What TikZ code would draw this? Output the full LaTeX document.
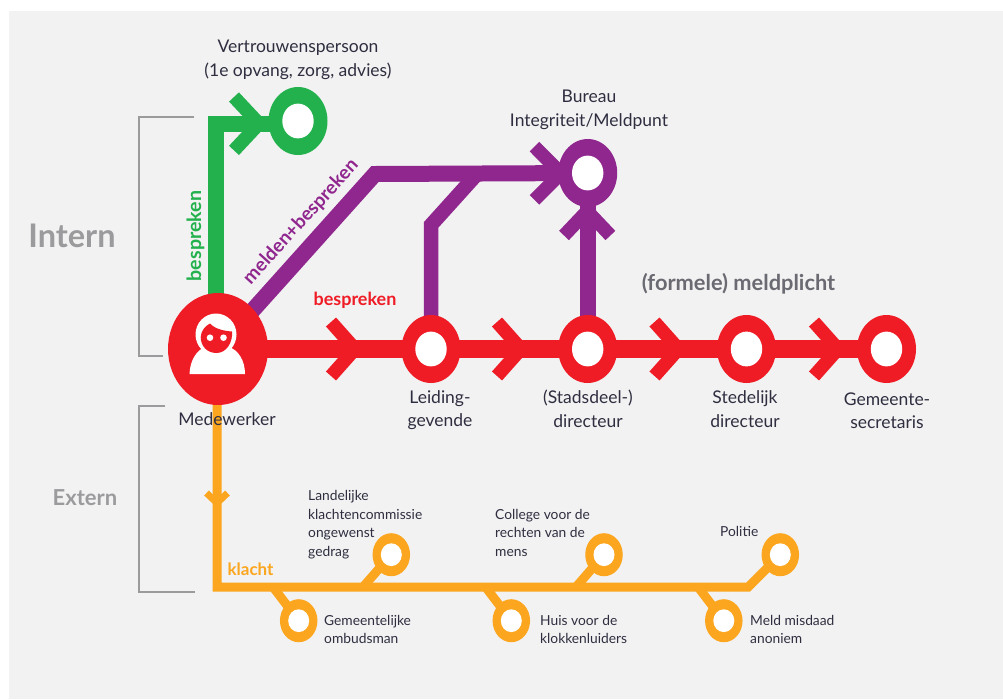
\documentclass[tikz,border=0pt]{standalone}
\usepackage{fontspec}
\setmainfont{Lato}
\usetikzlibrary{shapes.geometric,calc}
\pgfdeclarelayer{panel}
\pgfdeclarelayer{lines}
\pgfsetlayers{panel,lines,main}
\definecolor{pgray}{HTML}{F2F2F2}
\definecolor{mred}{HTML}{EF1C26}
\definecolor{mgreen}{HTML}{22B14C}
\definecolor{mpurple}{HTML}{90278E}
\definecolor{morange}{HTML}{FBA61E}
\definecolor{brgray}{HTML}{9B9B9E}
\definecolor{txt}{HTML}{2E2E40}
\definecolor{headgray}{HTML}{6A6A72}
\tikzset{
  x=1pt,y=-1pt,
  bigring/.style={shape=ellipse,inner sep=0pt,fill=#1,minimum width=59pt,minimum height=68pt,
    path picture={\fill[white] (path picture bounding box.center) ellipse [x radius=15.7pt,y radius=17.4pt];}},
  smallring/.style={shape=ellipse,inner sep=0pt,fill=morange,minimum width=37.5pt,minimum height=43pt,
    path picture={\fill[white] (path picture bounding box.center) ellipse [x radius=10.5pt,y radius=11.4pt];}},
  redline/.style={draw=mred,line width=18pt},
  greenline/.style={draw=mgreen,line width=16pt,line join=miter},
  purpleline/.style={draw=mpurple,line width=16pt,line join=miter},
  purplethin/.style={draw=mpurple,line width=14.5pt,line join=miter},
  orangeline/.style={draw=morange,line width=9pt,line join=miter},
  chevron/.style={draw=#1,line width=13.5pt,line join=miter},
  smallchevron/.style={draw=morange,line width=6.8pt,line join=miter},
  bracket/.style={draw=brgray,line width=2pt},
  biglabel/.style={text=txt,align=center,inner sep=0pt,font=\fontsize{17.5}{23.5}\selectfont},
  smalllabel/.style={text=txt,align=left,inner sep=0pt,anchor=west,font=\fontsize{13.8}{18.5}\selectfont},
  toplabel/.style={text=#1,inner sep=0pt,font=\fontsize{18}{20}\selectfont\bfseries},
}
\begin{document}
\begin{tikzpicture}
\useasboundingbox (0,0) rectangle (1003,699);
\begin{pgfonlayer}{panel}
  \fill[white] (0,0) rectangle (1003,699);
  \fill[pgray] (9,11) rectangle (1003,699);
\end{pgfonlayer}

% stations
\node[shape=ellipse,inner sep=0pt,fill=mred,minimum width=100pt,minimum height=112pt] (me) at (218,349) {};
\node[bigring=mgreen] (vp) at (298,121) {};
\node[bigring=mpurple] (bi) at (587.7,173) {};
\node[bigring=mred] (lg) at (431,349) {};
\node[bigring=mred] (sd) at (587.7,349) {};
\node[bigring=mred] (st) at (746.5,349) {};
\node[bigring=mred] (gs) at (886.5,349) {};
\node[smallring] (lk) at (391.3,554.7) {};
\node[smallring] (cr) at (604,554.7) {};
\node[smallring] (po) at (780.3,554.7) {};
\node[smallring] (go) at (298.7,620.7) {};
\node[smallring] (hk) at (511.3,620.7) {};
\node[smallring] (mm) at (723.8,620.7) {};

% junction points
\coordinate (gcorner) at (215.5,123.7);
\coordinate (gend) at (vp.center |- gcorner);
\coordinate (pcorner) at (375,174);
\coordinate (pjoin) at (477,174);
\coordinate (pbend) at (431,225);
\coordinate (ocorner) at (217,587);
\coordinate (oend) at (748.3,587);
\coordinate (jlk) at (363,587);
\coordinate (jcr) at (576,587);
\coordinate (jgo) at (273,587);
\coordinate (jhk) at (485.5,587);
\coordinate (jmm) at (698,587);

\begin{pgfonlayer}{lines}
  % connectors
  \draw[orangeline] (ocorner |- me.center) -- (ocorner) -- (oend) -- (po.center);
  \draw[orangeline] (jlk) -- (lk.center);
  \draw[orangeline] (jcr) -- (cr.center);
  \draw[orangeline] (jgo) -- (go.center);
  \draw[orangeline] (jhk) -- (hk.center);
  \draw[orangeline] (jmm) -- (mm.center);
  \draw[greenline] (gcorner |- me.center) -- (gcorner) -- (gend);
  \draw[purpleline] (me.center) -- (pcorner) -- (bi.center);
  \draw[purplethin] (lg.center) -- (pbend) -- (pjoin);
  \draw[purpleline] (sd.center) -- (bi.center);
  \draw[redline] (me.center) -- (gs.center);
  % arrowheads
  \draw[chevron=mgreen] (234,97) -- (259,123.7) -- (234,150.4);
  \draw[chevron=mpurple] (534.5,146.7) -- (561,173.3) -- (534.5,199.9);
  \draw[chevron=mpurple] (564,235.5) -- (587.2,211) -- (610.4,235.5);
  \draw[chevron=mred] (331,322) -- (355,349) -- (331,376);
  \draw[chevron=mred] (497,322) -- (521,349) -- (497,376);
  \draw[chevron=mred] (654.5,322) -- (678.5,349) -- (654.5,376);
  \draw[chevron=mred] (814,322) -- (838,349) -- (814,376);
  \draw[smallchevron] (206.5,493) -- (217,503) -- (227.5,493);
\end{pgfonlayer}

% person icon
\fill[white] (216,334.5) ellipse [x radius=20.5pt,y radius=21pt];
\fill[white] (189.5,374) .. controls (190,360) and (197,350) .. (205,347) -- (229,347) .. controls (238,350) and (245,360) .. (245,374) -- cycle;
\fill[mred] (200.7,337) .. controls (201,331) and (205,326) .. (210,323.5) .. controls (215,329) and (224,331) .. (232,331.5) .. controls (233,343) and (226,353) .. (216.5,353) .. controls (207,353) and (200.7,346) .. (200.7,337) -- cycle;
\fill[white] (210,337.7) circle [radius=3.3pt];
\fill[white] (223.5,337.7) circle [radius=3.3pt];

% brackets
\draw[bracket] (194,116.7) -- (138.5,116.7) -- (138.5,356) -- (163,356);
\draw[bracket] (165,406) -- (138.5,406) -- (138.5,591.7) -- (195,591.7);

% labels
\node[biglabel] (t1) at (298,60) {Vertrouwenspersoon\\(1e opvang, zorg, advies)};
\node[biglabel] (t2) at (589,110) {Bureau\\Integriteit/Meldpunt};
\node[biglabel] (t3) at (227,419.5) {Medewerker};
\node[biglabel] (t4) at (440,410) {Leiding-\\gevende};
\node[biglabel] (t5) at (588,409) {(Stadsdeel-)\\directeur};
\node[biglabel] (t6) at (745,409) {Stedelijk\\directeur};
\node[biglabel] (t7) at (887,410.5) {Gemeente-\\secretaris};
\node[smalllabel] (s1) at (308,524.5) {Landelijke\\klachtencommissie\\ongewenst\\gedrag};
\node[smalllabel] (s2) at (324,629.5) {Gemeentelijke\\ombudsman};
\node[smalllabel] (s3) at (495,532.5) {College voor de\\rechten van de\\mens};
\node[smalllabel] (s4) at (540,629.5) {Huis voor de\\klokkenluiders};
\node[smalllabel] (s5) at (720,531) {Politie};
\node[smalllabel] (s6) at (750,629.5) {Meld misdaad\\anoniem};
\node[text=brgray,inner sep=0pt,font=\fontsize{32.5}{36}\selectfont\bfseries] (h1) at (72,236) {Intern};
\node[text=brgray,inner sep=0pt,font=\fontsize{22}{26}\selectfont\bfseries] (h2) at (85,498) {Extern};
\node[text=headgray,inner sep=0pt,font=\fontsize{21.8}{24}\selectfont\bfseries] (h3) at (738.5,284) {(formele) meldplicht};
\node[toplabel=mred] (l1) at (355,300) {bespreken};
\node[toplabel=mgreen,rotate=90,font=\fontsize{19.6}{22}\selectfont\bfseries] (l2) at (195.5,236) {bespreken};
\node[toplabel=mpurple,rotate=47.8,font=\fontsize{19}{22}\selectfont\bfseries] (l3) at (301,222) {melden+bespreken};
\node[toplabel=morange,font=\fontsize{17}{20}\selectfont\bfseries] (l4) at (250.5,569) {klacht};
\end{tikzpicture}
\end{document}
